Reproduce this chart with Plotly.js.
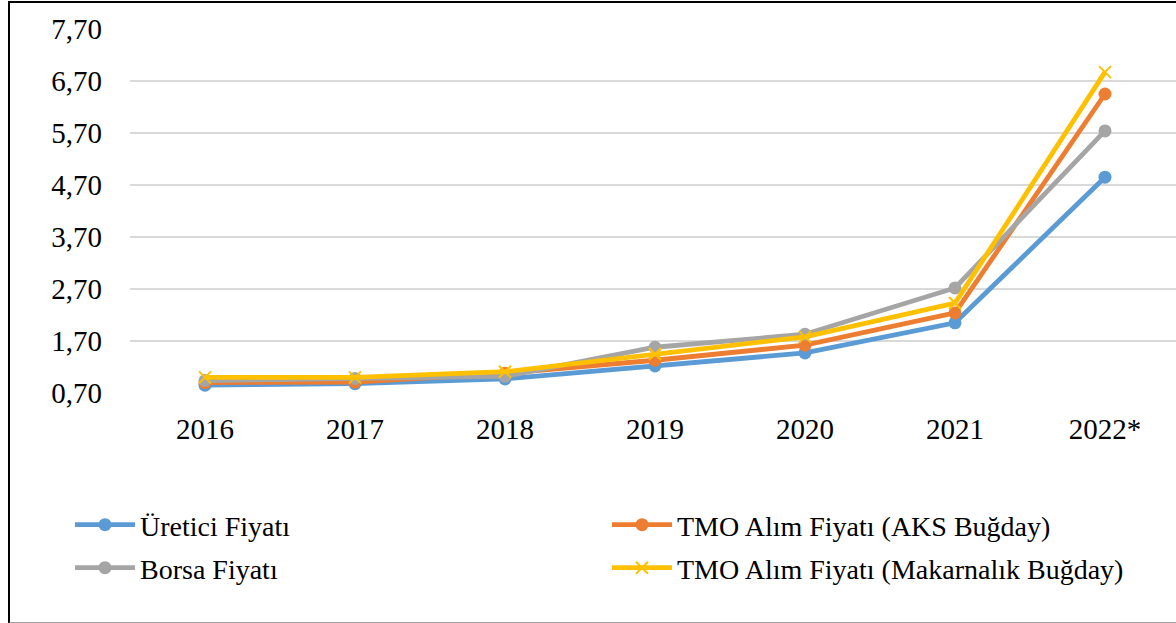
<!DOCTYPE html>
<html>
<head>
<meta charset="utf-8">
<script src="https://cdn.plot.ly/plotly-3.0.1.min.js"></script>
<style>
  html, body { margin: 0; padding: 0; overflow: hidden; background: #fff; }
  #chart { position: absolute; left: 0; top: 0; width: 1190px; height: 623px; }
  #frame { position: absolute; left: 8px; top: 1px; width: 1180px; height: 619px;
           border-left: 2px solid #000; border-top: 2px solid #000; border-bottom: 2px solid #a0a0a0;
           pointer-events: none; }
</style>
</head>
<body>
<div id="chart"></div>
<div id="frame"></div>
<script>
var years = ["2016", "2017", "2018", "2019", "2020", "2021", "2022*"];

var ureticiFiyati = [0.85, 0.88, 0.97, 1.22, 1.47, 2.05, 4.85];
var tmoAksBugday = [0.90, 0.91, 1.08, 1.33, 1.62, 2.24, 6.45];
var borsaFiyati = [0.94, 0.98, 1.02, 1.58, 1.83, 2.72, 5.74];
var tmoMakarnalikBugday = [1.00, 1.00, 1.11, 1.45, 1.78, 2.43, 6.87];

var yTicks = [0.7, 1.7, 2.7, 3.7, 4.7, 5.7, 6.7, 7.7];

var fontName = "Liberation Serif";
var figWidth = 1190;
var figHeight = 623;

function lineTrace(name, values, color, symbol, legendName) {
  var marker = { color: color, size: 13, symbol: symbol };
  if (symbol === "x-thin") {
    marker = { color: color, size: 12, symbol: symbol, line: { color: color, width: 2 } };
  }
  return {
    x: years,
    y: values,
    name: name,
    type: "scatter",
    mode: "lines+markers",
    line: { color: color, width: 4.8 },
    marker: marker,
    legend: legendName,
    cliponaxis: false
  };
}

var traces = [
  lineTrace("Üretici Fiyatı", ureticiFiyati, "#5B9BD5", "circle", "legend"),
  lineTrace("TMO Alım Fiyatı (AKS Buğday)", tmoAksBugday, "#ED7D31", "circle", "legend2"),
  lineTrace("Borsa Fiyatı", borsaFiyati, "#A5A5A5", "circle", "legend3"),
  lineTrace("TMO Alım Fiyatı (Makarnalık Buğday)", tmoMakarnalikBugday, "#FFC000", "x-thin", "legend4")
];

// one legend box per entry, laid out as 2 x 2 like the original
function legendBox(left, middle) {
  return {
    orientation: "h",
    xref: "container",
    yref: "container",
    x: left / figWidth,
    y: 1 - middle / figHeight,
    xanchor: "left",
    yanchor: "middle",
    itemwidth: 60,
    font: { family: fontName, size: 28, color: "#000" },
    bgcolor: "rgba(0,0,0,0)"
  };
}

var layout = {
  width: figWidth,
  height: figHeight,
  margin: { l: 130, r: 10, t: 29, b: 230 },
  paper_bgcolor: "#fff",
  plot_bgcolor: "#fff",
  separators: ", ",
  font: { family: fontName, size: 29, color: "#000" },
  showlegend: true,
  legend: legendBox(70, 525),
  legend2: legendBox(607, 525),
  legend3: legendBox(70, 568),
  legend4: legendBox(607, 568),
  xaxis: {
    type: "category",
    range: [-0.5, 6.5],
    showgrid: false,
    showline: false,
    zeroline: false,
    ticks: "",
    ticklabelstandoff: 16,
    tickfont: { family: fontName, size: 29, color: "#000" }
  },
  yaxis: {
    range: [0.7, 7.7],
    tickvals: yTicks,
    tickformat: ".2f",
    showgrid: true,
    gridcolor: "#d9d9d9",
    gridwidth: 2,
    zeroline: false,
    showline: false,
    ticks: "",
    ticklabelstandoff: 27,
    tickfont: { family: fontName, size: 29, color: "#000" }
  }
};

Plotly.newPlot("chart", traces, layout, { displayModeBar: false, staticPlot: true });
</script>
</body>
</html>
